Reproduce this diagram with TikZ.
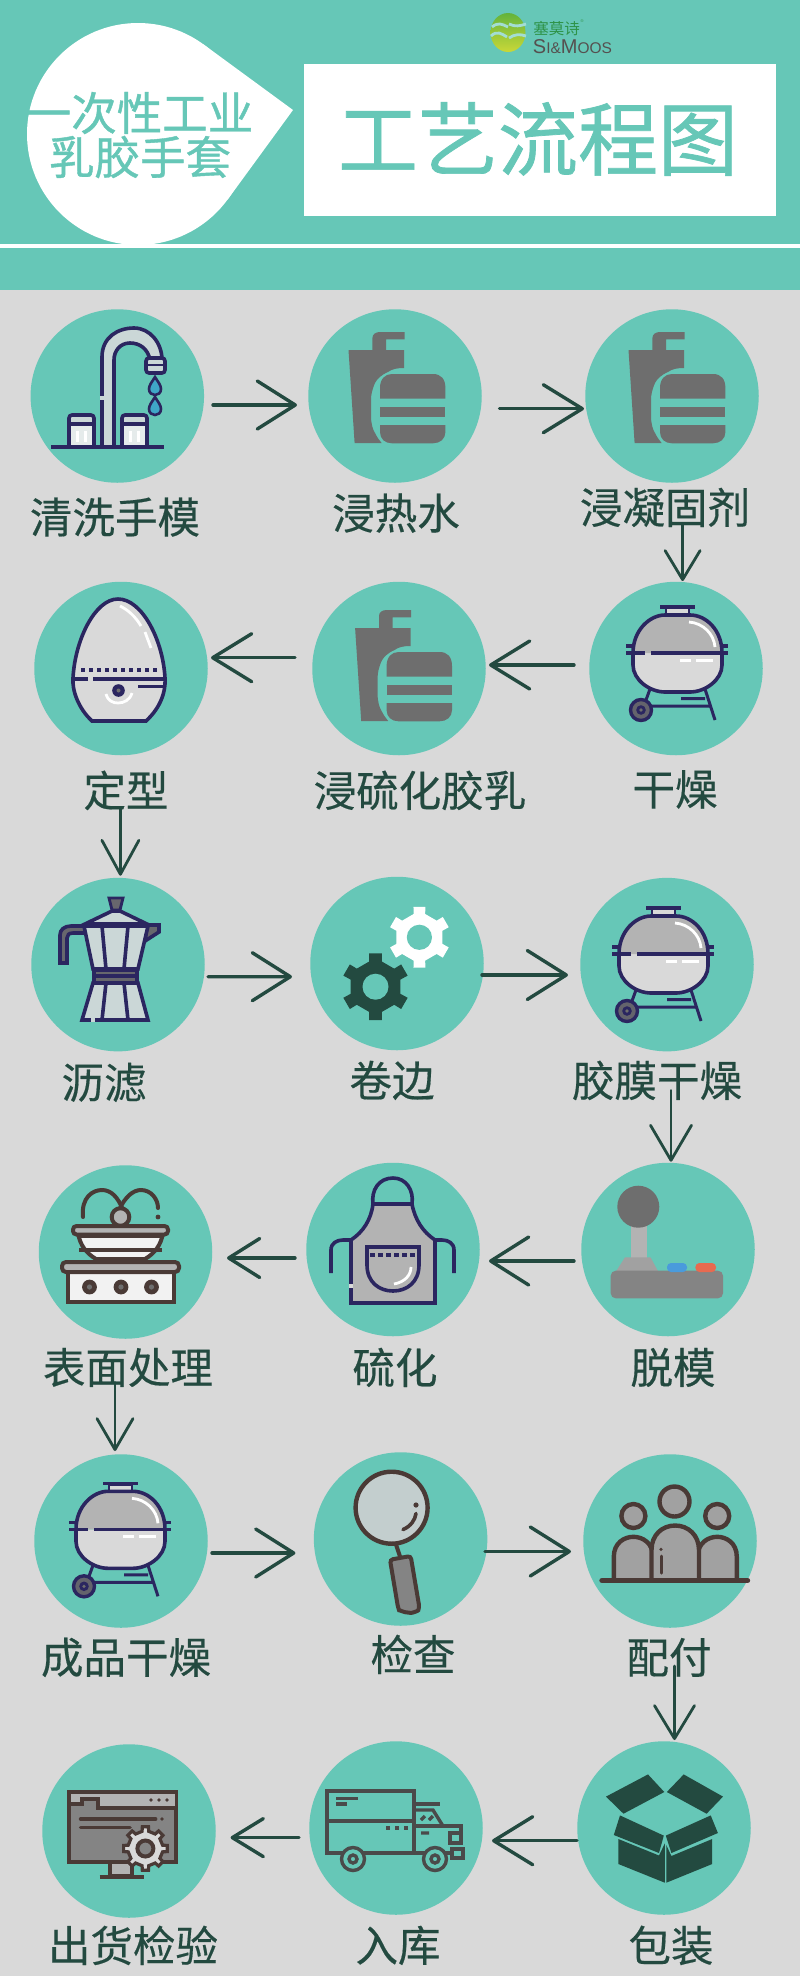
\documentclass[tikz,border=0pt]{standalone}
\usepackage{fontspec}
\setmainfont{Liberation Sans}
\newfontfamily\cjk[FakeBold=0.4]{Noto Sans CJK SC}
\newfontfamily\cjktitle[FakeBold=0.9]{Noto Sans CJK SC}
\newfontfamily\cjkplain{Noto Sans CJK SC}
\usetikzlibrary{arrows.meta,calc}
\definecolor{tealbg}{HTML}{66C7B7}
\definecolor{greybg}{HTML}{D9D9D9}
\definecolor{inkgreen}{HTML}{234A40}
\definecolor{icNavy}{HTML}{2B2660}
\definecolor{icBrown}{HTML}{4A3A36}
\definecolor{icGrey}{HTML}{6E6E6E}
\definecolor{icMid}{HTML}{B3B3B3}
\definecolor{icLite}{HTML}{CBD7D7}
\definecolor{icTruck}{HTML}{4A4A4A}
\definecolor{icBlue}{HTML}{4A9BDC}
\definecolor{icRed}{HTML}{E86A50}
\definecolor{icDrop}{HTML}{3FA7C8}
\definecolor{logoTop}{HTML}{63B33C}
\definecolor{logoLow}{HTML}{C9D838}
\definecolor{logoInk}{HTML}{2E9348}
\definecolor{logoEn}{HTML}{55504F}
\tikzset{
  disc/.style={circle,fill=tealbg,draw=none,minimum size=173.5pt,inner sep=0pt},
  lab/.style={inner sep=0pt,yshift=-0.4pt,text=inkgreen,font=\fontsize{42.5}{42.5}\selectfont\cjk},
  head/.style={inner sep=0pt,text=tealbg,font=\fontsize{45.5}{45.5}\selectfont\cjktitle},
  arr/.style 2 args={draw=inkgreen,line width=3.4pt,line cap=round,
     -{Straight Barb[length=#1pt,width=#2pt,line width=3.4pt,round]}},
  arv/.style 2 args={draw=inkgreen,line width=2.8pt,line cap=round,
     -{Straight Barb[length=#1pt,width=#2pt,line width=2.8pt,round]}},
  nv/.style={draw=icNavy,line width=3.6pt},
  br/.style={draw=icBrown,line width=4pt},
  wh/.style={draw=white,line width=2.8pt},
  faucet/.pic={
    \fill[icLite] (62,132) -- (62,42) .. controls (62,22) and (78,13) .. (94,13) .. controls (110,13) and (122,28) .. (122,45) -- (110,45) .. controls (108,34) and (100,28) .. (90,28) .. controls (80,28) and (74,36) .. (74,45) -- (74,132) -- cycle;
    \draw[nv] (62,132) -- (62,42) .. controls (62,22) and (78,13) .. (94,13) .. controls (110,13) and (122,28) .. (122,45);
    \draw[nv] (110,45) .. controls (108,34) and (100,28) .. (90,28) .. controls (80,28) and (74,36) .. (74,45) -- (74,132);
    \draw[icLite,line width=3.8pt] (62,81) -- (62,85);
    \draw[nv,fill=icLite,rounded corners=3pt] (106,43) rectangle (125,58);
    \draw[icNavy,line width=2.4pt] (106,50) -- (125,50);
    \foreach \d in {72,92} {
      \draw[draw=icNavy,line width=2.6pt,fill=icDrop] (115,\d-10) .. controls (118,\d-5) and (121,\d-2) .. (121,\d+2) .. controls (121,\d+6) and (118,\d+8) .. (115,\d+8) .. controls (112,\d+8) and (109,\d+6) .. (109,\d+2) .. controls (109,\d-2) and (112,\d-5) .. (115,\d-10) -- cycle;
    }
    \foreach \k in {29,82} {
      \fill[icLite!50!white] (\k,108) rectangle (\k+25,131);
      \fill[icLite] (\k,100) rectangle (\k+25,108);
      \draw[nv,rounded corners=3pt] (\k,131) -- (\k,100) -- (\k+25,100) -- (\k+25,131);
      \draw[nv] (\k,109) -- (\k+25,109);
      \fill[white] (\k+6.5,116) rectangle (\k+10,127);
      \fill[white] (\k+14.5,116) rectangle (\k+18,127);
    }
    \draw[icNavy,line width=3.8pt] (11,132) -- (124,132);
  },
  bottle/.pic={
    \fill[icGrey] (-46.5,-46) -- (-22.6,-46) -- (-22.6,-58) .. controls (-22.6,-62) and (-19,-64) .. (-15,-64) -- (9.6,-64) -- (9.6,-56.7) -- (-9,-56.7) -- (-9,-46) -- (9,-46) -- (9,-28) .. controls (2,-28) and (-3,-27) .. (-7,-24) .. controls (-14,-21) and (-18,-17) .. (-20,-13) .. controls (-23,-6) and (-24,-1) .. (-24,4) -- (-24,20) .. controls (-24,28) and (-22,34) .. (-20,37) .. controls (-18,41) and (-16,44) .. (-13.4,47) -- (-40.4,47) -- cycle;
    \fill[icGrey] (-15,2.7) -- (-15,-8) .. controls (-15,-17) and (-10,-22) .. (-3,-22) -- (38,-22) .. controls (46,-22) and (50.4,-17) .. (50.4,-8) -- (50.4,2.7) -- cycle;
    \fill[icGrey] (-15,11.3) rectangle (50.4,21.3);
    \fill[icGrey] (-15,29) -- (50.4,29) -- (50.4,36) .. controls (50.4,43) and (45,47.3) .. (38,47.3) -- (-3,47.3) .. controls (-10,47.3) and (-15,43) .. (-15,36) -- cycle;
  },
  grill/.pic={
    \path[fill=greybg] (33,63) -- (122,63) -- (122,75) .. controls (122,90) and (105,102) .. (90,102) -- (65,102) .. controls (50,102) and (33,90) .. (33,75) -- cycle;
    \path[fill=icMid] (33,63) .. controls (33,40) and (50,25) .. (65,25) -- (90,25) .. controls (106,25) and (122,40) .. (122,63) -- cycle;
    \draw[nv,fill=greybg,line width=2.8pt] (66,25) -- (66,18) -- (89,18) -- (89,25);
    \draw[nv] (60,17) -- (95,17);
    \draw[nv] (33,63) .. controls (33,40) and (50,25) .. (65,25) -- (90,25) .. controls (106,25) and (122,40) .. (122,63) -- (122,75) .. controls (122,90) and (105,102) .. (90,102) -- (65,102) .. controls (50,102) and (33,90) .. (33,75) -- cycle;
    \draw[nv] (26,56) -- (33,56) (122,56) -- (128,56) (26,63) -- (45,63) (51,63) -- (128,63);
    \draw[wh] (89,32) .. controls (103,33) and (114,44) .. (115,57);
    \draw[wh] (80,70.5) -- (91,70.5) (96,70.5) -- (113,70.5);
    \draw[icNavy,line width=3pt] (50,99) -- (46,110) (105,99) -- (115,130) (52,116) -- (110,116) (81,108.5) -- (105,108.5);
    \draw[draw=icNavy,line width=3.4pt,fill=icGrey!85!icNavy] (41,120) circle (10.5);
    \fill[icNavy] (41,120) circle (4.8);
    \fill[icGrey] (41,120) circle (1.8);
  },
  egg/.pic={
    \draw[nv,fill=greybg] (52,131) .. controls (38,118) and (32,100) .. (33,88) .. controls (35,50) and (55,9) .. (78,9) .. controls (102,9) and (123,50) .. (125,88) .. controls (126,105) and (118,120) .. (106,131) -- cycle;
    \foreach \i in {0,...,9} {\fill[icNavy] (41+8*\i,78) rectangle (45+8*\i,82);}
    \draw[nv] (33,89) -- (48,89) (53,89) -- (125,89) (98,96.5) -- (125,96.5);
    \draw[wh] (66,104) .. controls (68,111) and (73,113) .. (78,113) .. controls (84,113) and (90,110) .. (92,103);
    \fill[icNavy] (78.5,100.5) circle (6.3);
    \fill[icGrey] (78.5,100.5) circle (2);
    \draw[wh] (80,16) .. controls (88,20) and (95,26) .. (101,36);
    \draw[wh] (105,42) -- (111,58);
  },
  moka/.pic={
    \draw[nv,fill=icGrey!90!icNavy,line width=2.8pt] (69,13) -- (83,13) -- (80,25) -- (72,25) -- cycle;
    \draw[nv,fill=icLite] (45,39) -- (72,26) -- (80,26) -- (107,39) -- cycle;
    \draw[nv,fill=icGrey!90!icNavy] (107,40) -- (119,40) -- (119,47) -- (105,56) -- cycle;
    \draw[nv,fill=icGrey!90!icNavy] (44,41) -- (31,41) .. controls (24,41) and (20,45) .. (20,50) -- (20,78) -- (27,78) -- (27,53) .. controls (27,50) and (29,48) .. (33,48) -- (44,48);
    \draw[nv,fill=icLite] (44,41) -- (108,41) -- (98,84) -- (53,84) -- cycle;
    \draw[nv] (62,41) -- (66,84) (88,41) -- (84,84);
    \draw[nv,fill=icGrey!90!icNavy] (54,85) rectangle (97,98);
    \draw[nv] (54,91) -- (97,91);
    \draw[nv,fill=icLite] (53,98) -- (98,98) -- (108,135) -- (42,135) -- cycle;
    \draw[nv] (66,98) -- (62,135) (84,98) -- (88,135);
    \draw[icLite,line width=3.8pt] (51,135) -- (55,135);
  },
  apron/.pic={
    \draw[nv] (58,34) .. controls (56,20) and (64,8) .. (78,8) .. controls (91,8) and (99,20) .. (97,34);
    \draw[nv,fill=icMid] (58,34) .. controls (56,50) and (48,62) .. (36,70) -- (36,133) -- (120,133) -- (120,70) .. controls (108,62) and (100,50) .. (97,34) -- cycle;
    \draw[nv] (16,103) -- (16,80) .. controls (16,73) and (22,70) .. (28,70) -- (36,70);
    \draw[nv] (139,103) -- (139,80) .. controls (139,73) and (133,70) .. (127,70) -- (120,70);
    \draw[nv] (52,77) -- (104,77) -- (104,95) .. controls (104,112) and (92,121) .. (78,121) .. controls (64,121) and (52,112) .. (52,95) -- cycle;
    \draw[icNavy,line width=3.4pt,dash pattern=on 4.5pt off 3.5pt] (55,85) -- (102,85);
    \draw[wh] (96,97) .. controls (96,105) and (90,112) .. (79,114);
    \draw[draw=icMid!50!white,line width=3.8pt] (36,114) -- (36,118);
  },
  stove/.pic={
    \draw[br,line cap=round] (35,42) .. controls (33,22) and (45,15) .. (54,15) .. controls (63,15) and (70,22) .. (75,35);
    \draw[br,line cap=round] (71,35) .. controls (77,22) and (85,15) .. (93,15) .. controls (103,15) and (110,24) .. (110,33);
    \fill[icBrown] (110,42) circle (2.4);
    \draw[br,fill=icMid] (72.5,42) circle (8.8);
    \draw[br,fill=white!95!black] (30,58) .. controls (32,70) and (38,78) .. (48,84) -- (97,84) .. controls (107,78) and (113,70) .. (115,58) -- cycle;
    \draw[br] (31,60.5) -- (114,60.5) (31,74.5) -- (114,74.5);
    \draw[br,fill=icMid,rounded corners=3.5pt] (25,51) rectangle (120,59.5);
    \draw[br,fill=white!95!black] (20,96) rectangle (126,127);
    \draw[br,fill=icMid,rounded corners=4pt] (14,87) rectangle (131,97);
    \foreach \b in {41.5,73,103.5} {
      \fill[icBrown] (\b,112) circle (7.4);
      \fill[icGrey] (\b,112) circle (2.6);
    }
  },
  truck/.pic={
    \begin{scope}[draw=icTruck,line width=3.4pt]
    \draw (12,31) rectangle (99,93);
    \draw (12,61) -- (99,61);
    \draw (21,38.5) -- (43,38.5) (21,44) -- (32,44);
    \draw (100,44) -- (125,44);
    \draw (100,50) -- (118,50) -- (128,66);
    \draw (100,66) -- (146,66) -- (146,85);
    \draw (99,93) -- (137,93);
    \draw (106,60) -- (110,56) (114,60) -- (118,56) (106,73) -- (114,73);
    \draw (135,73) rectangle (146,83);
    \draw (137,89) rectangle (148,98);
    \foreach \w in {38,120} {
      \draw[fill=tealbg] (\w,99) circle (11.5);
      \draw (\w,99) circle (4);
    }
    \end{scope}
    \foreach \q in {73,82,91} {\fill[icTruck] (\q-2,66) rectangle (\q+2,70);}
  },
}
% toothed wheel: #1 centre, #2 outer radius, #3 root radius, #4 teeth, #5 half tooth angle, #6 style, #7 hole radius, #8 hole colour
\newcommand{\cogwheel}[8]{%
  \begin{scope}[shift={#1}]
    \pgfmathsetmacro{\stp}{360/#4}
    \path[#6] (90-#5-3:#3) \foreach \ti in {1,...,#4} {
       -- ({90+(\ti-1)*\stp-#5}:#2) -- ({90+(\ti-1)*\stp+#5}:#2) -- ({90+(\ti-1)*\stp+#5+3}:#3) -- ({90+\ti*\stp-#5-3}:#3)
    } -- cycle;
    \fill[#8] (0,0) circle (#7);
  \end{scope}}
\begin{document}
\begin{tikzpicture}[x=1pt,y=-1pt]
\useasboundingbox (0,0) rectangle (800,1976);
\fill[greybg] (0,0) rectangle (800,1976);
\fill[tealbg] (0,0) rectangle (800,290);
\fill[white] (0,243.5) rectangle (800,247.5);
% teardrop
\fill[white] (138,134) circle (111);
\fill[white] (203.5,44.4) -- (293,110) -- (227.6,199.6) -- (138,134) -- cycle;
\fill[white] (303.6,64) rectangle (775.5,216);
\node[head] (h1) at (139.5,113) {一次性工业};
\node[head] (h2) at (140,157) {乳胶手套};
\node[inner sep=0pt,text=tealbg,font=\fontsize{80}{80}\selectfont\cjktitle] (title) at (538,139) {工艺流程图};
% logo
\shade[top color=logoTop,bottom color=logoLow] (508,32.5) ellipse (17.5 and 19.5);
\draw[tealbg!60!white,line width=2.8pt] (491,36) .. controls (497,30) and (502,34) .. (507,37) (492,27) .. controls (498,22) and (502,24) .. (508,27);
\draw[tealbg!60!white,line width=2.8pt] (509,24) .. controls (515,27) and (520,26) .. (526,24) (509,38) .. controls (515,34) and (520,34) .. (526,36);
\node[inner sep=0pt,text=logoInk,font=\fontsize{15.5}{15.5}\selectfont\cjkplain] (logocn) at (556.5,28.5) {塞莫诗};
\node[inner sep=0pt,text=logoInk,font=\fontsize{4}{4}\selectfont] (logor) at (582,21) {®};
\node[inner sep=0pt,text=logoEn] (logoen) at (572.5,46.5) {\fontsize{20}{20}\selectfont S\fontsize{15.5}{15.5}\selectfont I\&\fontsize{20}{20}\selectfont M\fontsize{15.5}{15.5}\selectfont OOS};
% discs
\node[disc] (n1) at (117.3,396) {};
\node[disc] (n2) at (395,396) {};
\node[disc] (n3) at (672,396) {};
\node[disc] (n4) at (676,668.5) {};
\node[disc] (n5) at (399,668.5) {};
\node[disc] (n6) at (121,668.5) {};
\node[disc] (n7) at (118,964.6) {};
\node[disc] (n8) at (397,963.5) {};
\node[disc] (n9) at (667,964.6) {};
\node[disc] (n10) at (668,1249.5) {};
\node[disc] (n11) at (393,1249.5) {};
\node[disc] (n12) at (125.5,1252) {};
\node[disc] (n13) at (121,1541) {};
\node[disc] (n14) at (400.6,1539) {};
\node[disc] (n15) at (670,1541) {};
\node[disc] (n16) at (664,1828) {};
\node[disc] (n17) at (396,1828) {};
\node[disc] (n18) at (129,1831) {};
% icons
\pic at (40,315) {faucet};
\pic at (395,396) {bottle};
\pic at (675,396) {bottle};
\pic at (401.6,674) {bottle};
\pic at (600,590) {grill};
\pic at (586,891) {grill};
\pic at (43,1466.3) {grill};
\pic at (40,590) {egg};
\pic at (40,885) {moka};
\pic at (315,1170) {apron};
\pic at (48,1175) {stove};
\pic at (315,1760) {truck};
% gears
\cogwheel{(419.4,937.3)}{31}{24}{6}{11}{fill=white}{12.6}{tealbg}
\cogwheel{(375.5,986.7)}{34}{26}{6}{11}{fill=inkgreen}{13}{tealbg}
% joystick
\fill[icMid] (631,1225) rectangle (647,1260);
\fill[icGrey] (638.3,1206.7) circle (21);
\fill[icMid!90!black] (625,1257.3) -- (650.5,1257.3) -- (659,1273) -- (615,1273) -- cycle;
\fill[rounded corners=5pt,fill=icGrey!85!white] (610.7,1270.7) rectangle (723,1298.3);
\fill[rounded corners=4pt,fill=icBlue] (667,1263) rectangle (687,1272);
\fill[rounded corners=4pt,fill=icRed] (695.4,1263) rectangle (716,1272);
% magnifier
\draw[br] (395.4,1542.6) -- (400.5,1558);
\draw[br,fill=icGrey!85!white,rounded corners=3pt] (390,1559.7) -- (410.7,1556) -- (419.4,1607.5) .. controls (418,1611) and (412,1613) .. (408,1612.6) .. controls (404,1612) and (399,1610) .. (398,1607.5) -- cycle;
\draw[br,line width=4.4pt,fill=icLite!90!gray] (391.6,1507.7) circle (36);
\fill[icBrown] (416,1505) circle (2.6);
\draw[icBrown,line width=3.6pt,line cap=round] (416,1513.5) .. controls (415,1520) and (411,1526) .. (403,1529.6);
% group
\foreach \pp/\hh/\tt/\rr in {633.4/1516/1536.8/19.6, 717.2/1516/1536.8/19.6} {
  \draw[br,line width=4.4pt,fill=icGrey!65!white] (\pp-\rr,1580) -- (\pp-\rr,{\tt+20}) .. controls (\pp-\rr,{\tt+6}) and (\pp-9,\tt) .. (\pp,\tt) .. controls (\pp+9,\tt) and (\pp+\rr,{\tt+6}) .. (\pp+\rr,{\tt+20}) -- (\pp+\rr,1580);
  \draw[br,line width=4.4pt,fill=icGrey!65!white] (\pp,\hh) circle (12);
}
\draw[br,line width=4.4pt,fill=icGrey!65!white] (651.5,1580) -- (651.5,1550) .. controls (651.5,1535) and (662,1525.5) .. (675.2,1525.5) .. controls (688,1525.5) and (699,1535) .. (699,1550) -- (699,1580);
\draw[br,line width=4.4pt,fill=icGrey!65!white] (674.5,1501.5) circle (15);
\draw[icBrown,line width=5.4pt,line cap=round] (602,1580.5) -- (747.5,1580.5);
\fill[icBrown] (661,1549.4) circle (1.8);
\draw[icBrown,line width=3pt,line cap=round] (661,1556) -- (661,1573);
% box
\fill[inkgreen] (606,1796.6) -- (648,1774.4) -- (664.3,1792) -- (623.5,1813.7) -- cycle;
\fill[inkgreen] (683.7,1774.4) -- (723,1796.6) -- (706.6,1813.7) -- (666.8,1792) -- cycle;
\fill[inkgreen] (620,1815.4) -- (663.8,1835.6) -- (659,1853) -- (613.8,1835) -- cycle;
\fill[inkgreen] (710.7,1815.4) -- (665.8,1835.6) -- (671.4,1853) -- (717.9,1833) -- cycle;
\fill[inkgreen] (618.4,1839) -- (659,1855.5) -- (664.8,1843.4) -- (664.8,1882.7) -- (618.4,1864) -- cycle;
\fill[inkgreen] (712.2,1839) -- (671.4,1856) -- (666.3,1845) -- (666.3,1882.7) -- (712.2,1864) -- cycle;
% monitor
\draw[br,fill=icMid] (110,1860) rectangle (131.6,1876);
\draw[br] (99.5,1876.6) -- (144.4,1876.6);
\draw[br,fill=icGrey!85!white] (69,1792) rectangle (176,1862);
\fill[icMid] (70.5,1793.5) rectangle (174.5,1806);
\fill[icGrey!85!white] (70.5,1806) rectangle (98,1800);
\fill[icMid] (70.5,1793.5) rectangle (82,1803);
\draw[br] (69,1804) -- (82,1804) -- (82,1799) -- (98,1799) -- (98,1807.5) -- (176,1807.5);
\foreach \dd in {151,159,167} {\fill[icBrown] (\dd,1800) circle (1.8);}
\draw[icBrown,line width=3.6pt,line cap=round] (80.6,1819) -- (155.6,1819) (80.6,1827.3) -- (130,1827.3);
\fill[icBrown] (162,1819) circle (1.8);
\cogwheel{(145.4,1848.5)}{22}{17.5}{8}{8}{draw=icBrown,line width=3.2pt,fill=greybg}{8}{icGrey!85!white}
\draw[br] (145.4,1848.5) circle (8);
% labels
\node[lab] (l1) at (115,516.7) {清洗手模};
\node[lab] (l2) at (396,512.7) {浸热水};
\node[lab] (l3) at (665,507) {浸凝固剂};
\node[lab] (l4) at (675,789) {干燥};
\node[lab] (l5) at (420,790) {浸硫化胶乳};
\node[lab] (l6) at (126,790) {定型};
\node[lab] (l7) at (104,1082) {沥滤};
\node[lab] (l8) at (392,1080) {卷边};
\node[lab] (l9) at (657,1080) {胶膜干燥};
\node[lab] (l10) at (673,1367) {脱模};
\node[lab] (l11) at (395,1367) {硫化};
\node[lab] (l12) at (128,1367) {表面处理};
\node[lab] (l13) at (126,1657) {成品干燥};
\node[lab] (l14) at (413,1654) {检查};
\node[lab] (l15) at (669,1657) {配付};
\node[lab] (l16) at (671,1945) {包装};
\node[lab] (l17) at (398,1945) {入库};
\node[lab] (l18) at (133,1945) {出货检验};
% connectors
\draw[arr={38}{48}] ($(n1.center)+(95.7,9)$) -- ($(n2.center)+(-98,9)$);
\draw[arr={39}{48}] ($(n2.center)+(104.5,12.7)$) -- ($(n3.center)+(-88,12.7)$);
\draw[arv={29}{35}] ($(l3.center)+(17.6,16)$) -- ($(n4.center)+(6.6,-87.5)$);
\draw[arr={39}{48}] ($(n4.center)+(-102,-3.5)$) -- ($(n5.center)+(90,-3.5)$);
\draw[arr={39}{48}] ($(n5.center)+(-104,-10.8)$) -- ($(n6.center)+(90,-10.8)$);
\draw[arv={34}{37}] ($(l6.center)+(-5.6,17)$) -- ($(n7.center)+(2.4,-88.9)$);
\draw[arr={38}{48}] ($(n7.center)+(90,12.1)$) -- ($(n8.center)+(-105,13.2)$);
\draw[arr={39}{49}] ($(n8.center)+(85,11.5)$) -- ($(n9.center)+(-99,10.4)$);
\draw[arv={35}{41}] ($(l9.center)+(14,10)$) -- ($(n10.center)+(3,-87.8)$);
\draw[arr={38}{48}] ($(n10.center)+(-94,11.5)$) -- ($(n11.center)+(96,11.5)$);
\draw[arr={31}{39}] ($(n11.center)+(-98,8.5)$) -- ($(n12.center)+(101.5,6)$);
\draw[arv={31}{36}] ($(l12.center)+(-13,15)$) -- ($(n13.center)+(-6,-90)$);
\draw[arr={38}{48}] ($(n13.center)+(91,12)$) -- ($(n14.center)+(-105.2,14)$);
\draw[arr={39}{49}] ($(n14.center)+(84.4,12.5)$) -- ($(n15.center)+(-99,10.5)$);
\draw[arv={33}{40}] ($(l15.center)+(5.5,8.6)$) -- ($(n16.center)+(10.5,-88)$);
\draw[arr={39}{48}] ($(n16.center)+(-87,12.7)$) -- ($(n17.center)+(96,12.7)$);
\draw[arr={31}{38}] ($(n17.center)+(-97,9.6)$) -- ($(n18.center)+(101.6,6.6)$);
\end{tikzpicture}
\end{document}
